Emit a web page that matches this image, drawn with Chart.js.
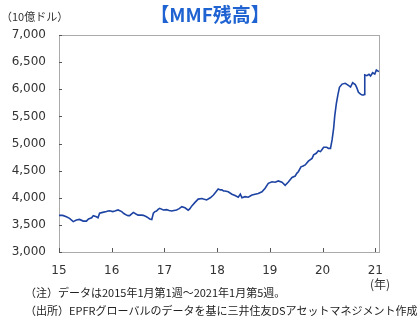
<!DOCTYPE html>
<html>
<head>
<meta charset="utf-8">
<script src="https://cdn.jsdelivr.net/npm/chart.js@4"></script>
<style>
  body { margin: 0; background: #fff; }
  canvas { display: block; }
</style>
</head>
<body>
<canvas id="mmfChart" width="418" height="327"></canvas>
<script>
// weekly MMF balance (billion USD); x = year (15 = 2015)
const years = [
  15.00, 15.07, 15.14, 15.20, 15.27, 15.33, 15.39, 15.46, 15.52, 15.56, 15.62, 15.65, 15.71, 15.74,
  15.77, 15.83, 15.90, 15.93, 15.96, 16.02, 16.06, 16.12, 16.19, 16.23, 16.28, 16.31, 16.34, 16.41,
  16.46, 16.50, 16.57, 16.60, 16.66, 16.70, 16.72, 16.76, 16.79, 16.82, 16.85, 16.88, 16.91, 16.98,
  17.04, 17.09, 17.14, 17.18, 17.23, 17.28, 17.33, 17.39, 17.45, 17.48, 17.52, 17.58, 17.64, 17.71,
  17.74, 17.80, 17.87, 17.93, 17.99, 18.02, 18.06, 18.09, 18.12, 18.15, 18.21, 18.28, 18.34, 18.40,
  18.44, 18.47, 18.53, 18.59, 18.66, 18.72, 18.78, 18.85, 18.91, 18.97, 19.04, 19.10, 19.16, 19.23,
  19.29, 19.35, 19.42, 19.48, 19.51, 19.54, 19.59, 19.63, 19.67, 19.73, 19.80, 19.83, 19.88, 19.92,
  19.96, 19.99, 20.02, 20.08, 20.11, 20.15, 20.18, 20.21, 20.23, 20.26, 20.29, 20.32, 20.37, 20.43,
  20.49, 20.53, 20.57, 20.62, 20.65, 20.68, 20.72, 20.75, 20.78, 20.79, 20.80, 20.84, 20.88, 20.91,
  20.95, 20.99, 21.02, 21.05, 21.07
];
const mmf = [
  3675, 3675, 3650, 3620, 3560, 3590, 3600, 3570, 3570, 3610, 3630, 3670, 3650, 3630,
  3715, 3730, 3745, 3755, 3760, 3745, 3755, 3775, 3745, 3710, 3680, 3670, 3670, 3730,
  3700, 3680, 3680, 3675, 3650, 3625, 3610, 3600, 3715, 3745, 3755, 3785, 3805, 3775,
  3780, 3765, 3755, 3765, 3775, 3800, 3835, 3815, 3770, 3795, 3850, 3915, 3975, 3985,
  3975, 3960, 4000, 4050, 4125, 4160, 4145, 4145, 4125, 4125, 4110, 4065, 4040, 4010,
  4065, 4000, 4020, 4010, 4050, 4065, 4080, 4110, 4175, 4265, 4295, 4285, 4310, 4285,
  4230, 4290, 4375, 4400, 4450, 4480, 4570, 4585, 4605, 4675, 4725, 4790, 4820, 4865,
  4850, 4890, 4930, 4930, 4910, 4910, 5065, 5285, 5505, 5730, 5895, 6035, 6095, 6110,
  6070, 6040, 6120, 6085, 6025, 5945, 5910, 5895, 5895, 5905, 6265, 6250, 6275, 6245,
  6305, 6280, 6355, 6335, 6325
];
const yearTicks = [15, 16, 17, 18, 19, 20, 21];
const yMin = 3000;
const yMax = 7000;
const yStep = 500;

const title = '【MMF残高】';
const unitLabel = '（10億ドル）';
const yearLabel = '(年)';
const notes = [
  '（注）データは2015年1月第1週～2021年1月第5週。',
  '（出所）EPFRグローバルのデータを基に三井住友DSアセットマネジメント作成'
];

const jpFont = '"Noto Sans CJK JP", "Noto Sans", sans-serif';

// box, inward ticks and the loose texts
const decorPlugin = {
  id: 'decor',
  beforeDatasetsDraw(chart) {
    const ctx = chart.ctx;
    const a = chart.chartArea;
    ctx.save();
    ctx.strokeStyle = '#555';
    ctx.lineWidth = 1;
    ctx.setLineDash([1, 1]);
    ctx.strokeRect(Math.round(a.left) + 0.5, Math.round(a.top) + 0.5,
      Math.round(a.right - a.left), Math.round(a.bottom - a.top));
    ctx.setLineDash([]);
    ctx.beginPath();
    chart.scales.y.ticks.forEach(t => {
      const y = Math.round(chart.scales.y.getPixelForValue(t.value)) + 0.5;
      ctx.moveTo(a.left, y);
      ctx.lineTo(a.left + 3, y);
    });
    chart.scales.x.ticks.forEach(t => {
      const x = Math.round(chart.scales.x.getPixelForValue(t.value)) + 0.5;
      ctx.moveTo(x, a.bottom);
      ctx.lineTo(x, a.bottom - 4);
    });
    ctx.stroke();
    ctx.restore();
  },
  afterDraw(chart) {
    const ctx = chart.ctx;
    ctx.save();
    ctx.textBaseline = 'middle';

    ctx.fillStyle = '#1f63d2';
    ctx.font = 'bold 19px ' + jpFont;
    ctx.textAlign = 'center';
    ctx.fillText(title, 210, 15);

    ctx.fillStyle = '#333';
    ctx.font = '11px ' + jpFont;
    ctx.textAlign = 'left';
    ctx.fillText(unitLabel, 1, 17);

    ctx.font = '12px ' + jpFont;
    ctx.textAlign = 'center';
    ctx.fillText(yearLabel, 380, 284);

    ctx.fillStyle = '#222';
    ctx.font = '11px ' + jpFont;
    ctx.textAlign = 'left';
    ctx.fillText(notes[0], 25, 293);
    ctx.fillText(notes[1], 25, 311);
    ctx.restore();
  }
};

const ctx = document.getElementById('mmfChart').getContext('2d');
new Chart(ctx, {
  type: 'line',
  data: {
    datasets: [{
      data: years.map((yr, i) => ({ x: yr, y: mmf[i] })),
      borderColor: '#1d43a3',
      borderWidth: 1.6,
      pointRadius: 0,
      tension: 0,
      fill: false
    }]
  },
  options: {
    responsive: false,
    animation: false,
    devicePixelRatio: 1,
    layout: { padding: { left: 0, top: 35, right: 39, bottom: 0 } },
    plugins: {
      legend: { display: false },
      title: { display: false },
      tooltip: { enabled: false }
    },
    scales: {
      x: {
        type: 'linear',
        min: 15,
        max: 21.07,
        afterBuildTicks: scale => { scale.ticks = yearTicks.map(v => ({ value: v })); },
        afterFit: scale => { scale.height = 75; },
        grid: { display: false, drawTicks: false },
        border: { display: false },
        ticks: {
          padding: 12,
          color: '#333',
          font: { family: 'DejaVu Sans', size: 12 },
          maxRotation: 0,
          autoSkip: false,
          callback: v => String(v)
        }
      },
      y: {
        min: yMin,
        max: yMax,
        afterFit: scale => { scale.width = 59; },
        grid: { display: false, drawTicks: false },
        border: { display: false },
        ticks: {
          stepSize: yStep,
          padding: 13,
          color: '#333',
          font: { family: 'DejaVu Sans', size: 12 },
          callback: v => v.toLocaleString('en-US')
        }
      }
    }
  },
  plugins: [decorPlugin]
});
</script>
</body>
</html>
